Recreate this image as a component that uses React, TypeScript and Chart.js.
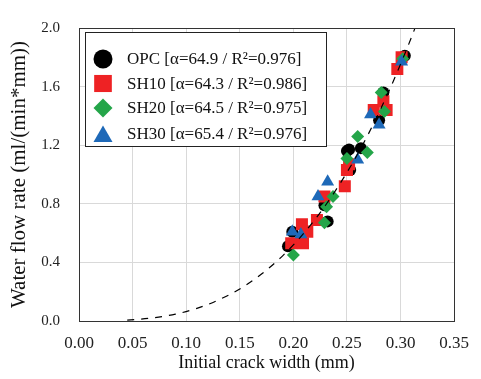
import React, { useEffect, useRef } from "react";
import { Chart, registerables } from "chart.js";

Chart.register(...registerables);

const FONT = '"Liberation Serif", "Times New Roman", Times, serif';

// ---- data ----
const xTickLabels = ["0.00", "0.05", "0.10", "0.15", "0.20", "0.25", "0.30", "0.35"];
const yTickLabels = ["0.0", "0.4", "0.8", "1.2", "1.6", "2.0"];

const seriesNames = ["OPC", "SH10", "SH20", "SH30"];
const seriesAlpha = ["64.9", "64.3", "64.5", "65.4"];
const seriesR2 = ["0.976", "0.986", "0.975", "0.976"];

const opcWidth = [0.195, 0.199, 0.229, 0.232, 0.25, 0.253, 0.252, 0.263, 0.28, 0.284, 0.304];
const opcRate = [0.51, 0.61, 0.79, 0.68, 1.16, 1.03, 1.17, 1.18, 1.37, 1.56, 1.81];

const sh10Width = [0.198, 0.209, 0.208, 0.213, 0.222, 0.229, 0.248, 0.25, 0.252, 0.275, 0.284, 0.287, 0.297, 0.301];
const sh10Rate = [0.53, 0.53, 0.66, 0.61, 0.69, 0.85, 0.92, 1.03, 1.07, 1.44, 1.5, 1.44, 1.72, 1.8];

const sh20Width = [0.2, 0.229, 0.231, 0.237, 0.25, 0.26, 0.269, 0.282, 0.285, 0.302];
const sh20Rate = [0.45, 0.67, 0.78, 0.85, 1.11, 1.26, 1.15, 1.56, 1.43, 1.79];

const sh30Width = [0.199, 0.207, 0.223, 0.232, 0.26, 0.272, 0.28, 0.301];
const sh30Rate = [0.61, 0.59, 0.85, 0.95, 1.1, 1.41, 1.34, 1.77];

// fitted curve (cubic law), read at selected widths
const fitWidth = [0.045, 0.07, 0.09, 0.11, 0.13, 0.15, 0.17, 0.19, 0.21, 0.23, 0.25, 0.27, 0.29, 0.31, 0.32];
const fitRate = [0.006, 0.022, 0.047, 0.086, 0.143, 0.219, 0.319, 0.445, 0.601, 0.79, 1.014, 1.277, 1.583, 1.933, 2.127];

const colors = ["#000000", "#EE2224", "#24A549", "#1E69B8"];
const styles = ["circle", "rect", "rectRot", "triangle"];
const radii = [6, 8.5, 6.5, 7.5];

const pts = (xs: number[], ys: number[]) => xs.map((x, i) => ({ x, y: ys[i] }));

function drawMarker(ctx: CanvasRenderingContext2D, style: string, x: number, y: number, s: number) {
  ctx.beginPath();
  if (style === "circle") {
    ctx.arc(x, y, s, 0, Math.PI * 2);
  } else if (style === "rect") {
    ctx.rect(x - s * 0.93, y - s * 0.9, s * 1.86, s * 1.8);
  } else if (style === "rectRot") {
    ctx.moveTo(x, y - s);
    ctx.lineTo(x + s, y);
    ctx.lineTo(x, y + s);
    ctx.lineTo(x - s, y);
    ctx.closePath();
  } else {
    ctx.moveTo(x, y - s * 0.9);
    ctx.lineTo(x + s, y + s * 0.85);
    ctx.lineTo(x - s, y + s * 0.85);
    ctx.closePath();
  }
  ctx.fill();
}

const framePlugin = {
  id: "frameAndLegend",
  afterDatasetsDraw(chart: any) {
    const ctx: CanvasRenderingContext2D = chart.ctx;
    const { left, top, right, bottom } = chart.chartArea;
    ctx.save();
    ctx.strokeStyle = "#333333";
    ctx.lineWidth = 1;
    ctx.strokeRect(Math.round(left) + 0.5, Math.round(top) + 0.5, Math.round(right - left), Math.round(bottom - top));
    ctx.restore();
  },
  afterDraw(chart: any) {
    const ctx: CanvasRenderingContext2D = chart.ctx;
    const { left, top } = chart.chartArea;
    const bx = Math.round(left) + 6;
    const by = Math.round(top) + 4;
    const bw = 241;
    const bh = 114;
    ctx.save();
    ctx.fillStyle = "#ffffff";
    ctx.fillRect(bx, by, bw, bh);
    ctx.strokeStyle = "#222222";
    ctx.lineWidth = 1;
    ctx.strokeRect(bx + 0.5, by + 0.5, bw, bh);
    const rowY = [27, 51.5, 76, 102];
    ctx.font = `17px ${FONT}`;
    ctx.textBaseline = "middle";
    ctx.textAlign = "left";
    for (let i = 0; i < seriesNames.length; i++) {
      const cy = by + rowY[i];
      ctx.fillStyle = colors[i];
      drawMarker(ctx, styles[i], bx + 18, cy, 9.5);
      ctx.fillStyle = "#111111";
      ctx.fillText(`${seriesNames[i]} [\u03b1=${seriesAlpha[i]} / R\u00b2=${seriesR2[i]}]`, bx + 42, cy + 1);
    }
    ctx.restore();
  },
};

export default function App() {
  const ref = useRef<HTMLCanvasElement | null>(null);

  useEffect(() => {
    if (!ref.current) return;
    const seriesW = [opcWidth, sh10Width, sh20Width, sh30Width];
    const seriesQ = [opcRate, sh10Rate, sh20Rate, sh30Rate];
    const scatterSets = seriesNames.map((name, i) => ({
      type: "scatter" as const,
      label: name,
      data: pts(seriesW[i], seriesQ[i]),
      pointStyle: styles[i],
      pointRadius: radii[i],
      pointHoverRadius: radii[i],
      backgroundColor: colors[i],
      borderColor: colors[i],
      borderWidth: 0,
      showLine: false,
      order: 4 - i,
    }));
    const chart = new Chart(ref.current, {
      type: "scatter",
      data: {
        datasets: [
          ...scatterSets,
          {
            type: "line" as const,
            label: "fit",
            data: pts(fitWidth, fitRate),
            borderColor: "#000000",
            borderWidth: 1.2,
            borderDash: [7, 7],
            pointRadius: 0,
            fill: false,
            cubicInterpolationMode: "monotone",
            order: 0,
          } as any,
        ],
      },
      options: {
        responsive: false,
        animation: false,
        events: [],
        layout: { padding: { left: 7, right: 19, top: 14, bottom: 5 } },
        plugins: {
          legend: { display: false },
          tooltip: { enabled: false },
        },
        scales: {
          x: {
            type: "linear",
            min: 0,
            max: 0.35,
            afterFit: (s: any) => {
              s.height = 53;
            },
            afterBuildTicks: (s: any) => {
              s.ticks = xTickLabels.map((t) => ({ value: parseFloat(t) }));
            },
            ticks: {
              stepSize: 0.05,
              padding: 12,
              color: "#222222",
              font: { family: FONT, size: 17 },
              callback: (_v: any, i: number) => xTickLabels[i],
              maxRotation: 0,
            },
            grid: { color: "#d9d9d9", lineWidth: 1, drawTicks: false },
            border: { display: false },
            title: {
              display: true,
              text: "Initial crack width (mm)",
              color: "#111111",
              font: { family: FONT, size: 18 },
              padding: 0,
            },
          },
          y: {
            type: "linear",
            min: 0,
            max: 2,
            afterFit: (s: any) => {
              s.width = 72;
            },
            afterBuildTicks: (s: any) => {
              s.ticks = yTickLabels.map((t) => ({ value: parseFloat(t) }));
            },
            ticks: {
              stepSize: 0.4,
              padding: 19,
              color: "#222222",
              font: { family: FONT, size: 15 },
              callback: (_v: any, i: number) => yTickLabels[i],
            },
            grid: { color: "#d9d9d9", lineWidth: 1, drawTicks: false },
            border: { display: false },
            title: {
              display: true,
              text: "Water flow rate (ml/(min*mm))",
              color: "#111111",
              font: { family: FONT, size: 21 },
              padding: 0,
            },
          },
        },
      },
      plugins: [framePlugin],
    });
    return () => chart.destroy();
  }, []);

  return (
    <canvas
      ref={ref}
      width={481}
      height={379}
      style={{ position: "absolute", left: 0, top: 0, display: "block", width: 481, height: 379, background: "#ffffff" }}
    />
  );
}
